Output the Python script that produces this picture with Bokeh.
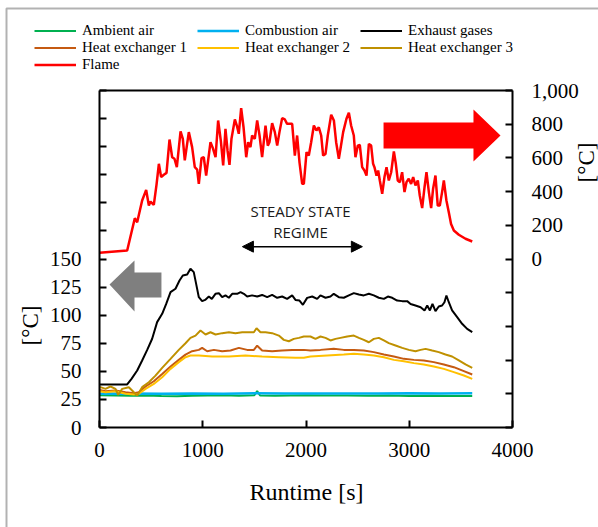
import math
from bokeh.plotting import figure
from bokeh.models import (Range1d, LinearAxis, FixedTicker, Legend, LegendItem, Label,
                          Arrow, NormalHead, CustomJSTickFormatter, BoxAnnotation)
from bokeh.embed import file_html
from bokeh.resources import INLINE

# ---------------- data (runtime [s], temperature [°C]) ----------------
flame = [(0, 37), (268, 50), (342, 242), (365, 218), (413, 347), (452, 410), (478, 317), (494, 341),
         (526, 321), (552, 440), (575, 565), (597, 486), (623, 500), (649, 511), (678, 709), (704, 604),
         (726, 595), (749, 545), (785, 757), (807, 713), (826, 585), (865, 753), (897, 664), (923, 545),
         (946, 531), (962, 446), (988, 598), (1010, 604), (1033, 495), (1075, 693), (1098, 658), (1124, 604),
         (1149, 822), (1175, 703), (1198, 555), (1220, 772), (1240, 644), (1259, 559), (1278, 713), (1311, 828),
         (1330, 792), (1349, 743), (1372, 895), (1395, 782), (1421, 604), (1440, 693), (1462, 664), (1478, 733),
         (1504, 713), (1527, 822), (1550, 733), (1575, 604), (1608, 792), (1630, 673), (1646, 693), (1672, 806),
         (1698, 753), (1721, 673), (1743, 753), (1769, 836), (1795, 828), (1817, 802), (1866, 802), (1892, 614),
         (1914, 733), (1937, 574), (1963, 446), (1979, 446), (2005, 634), (2027, 614), (2050, 693), (2076, 792),
         (2101, 763), (2124, 782), (2147, 733), (2166, 614), (2189, 624), (2211, 733), (2244, 856), (2270, 822),
         (2292, 693), (2318, 595), (2334, 654), (2360, 753), (2392, 832), (2415, 868), (2437, 792), (2463, 733),
         (2479, 604), (2502, 673), (2521, 677), (2544, 545), (2566, 525), (2586, 495), (2609, 683), (2631, 673),
         (2650, 565), (2663, 545), (2683, 495), (2699, 525), (2715, 466), (2738, 387), (2760, 486), (2780, 545),
         (2802, 466), (2825, 515), (2851, 638), (2870, 565), (2889, 466), (2909, 456), (2931, 515), (2954, 397),
         (2973, 456), (2995, 476), (3018, 446), (3038, 486), (3060, 436), (3083, 466), (3102, 377), (3125, 302),
         (3148, 426), (3167, 515), (3190, 397), (3212, 302), (3231, 417), (3254, 495), (3276, 317), (3296, 317),
         (3318, 397), (3335, 466), (3360, 347), (3383, 278), (3405, 208), (3432, 169), (3480, 144), (3545, 120),
         (3610, 104)]

exhaust = [(0, 38.3), (268, 38.3), (310, 43.3), (365, 50.7), (413, 59.6), (462, 69.1), (510, 79), (558, 93.8),
           (607, 101.2), (646, 110), (688, 120.5), (736, 123.5), (775, 130.9), (807, 135.3), (849, 136.2),
           (881, 141.3), (913, 138.3), (936, 127.9), (962, 116), (994, 112.5), (1023, 113.6), (1059, 116.6),
           (1088, 114.5), (1123, 119), (1156, 119.6), (1188, 116), (1220, 117.6), (1253, 115.5), (1285, 119),
           (1333, 119), (1366, 120.5), (1398, 119), (1430, 116.6), (1478, 117.6), (1527, 116.6), (1575, 118),
           (1624, 116), (1672, 118), (1721, 115.5), (1769, 116.6), (1817, 114.5), (1866, 117.6), (1898, 113.6),
           (1937, 113), (1970, 109.2), (2011, 115.4), (2060, 116.6), (2108, 114.5), (2140, 117.6), (2189, 115.5),
           (2237, 116.6), (2269, 119), (2318, 116), (2366, 115.5), (2415, 117.6), (2463, 119.6), (2512, 118.4),
           (2560, 117.6), (2609, 119), (2657, 117.6), (2705, 115.5), (2754, 114.5), (2793, 116.6), (2835, 115.5),
           (2883, 113), (2932, 112.5), (2980, 112.5), (3013, 110), (3060, 108.6), (3110, 107.1), (3148, 104.2),
           (3174, 108.6), (3200, 104.2), (3225, 110), (3254, 103.6), (3286, 107.7), (3318, 108.6), (3341, 111.5),
           (3360, 117.5), (3383, 111.5), (3415, 104.2), (3464, 98.2), (3512, 92.3), (3561, 87.8), (3610, 84.9)]

hx3 = [(0, 35.3), (10, 35.9), (58, 34.4), (106, 36.5), (155, 34.4), (181, 29.1), (220, 34.4), (284, 35.9),
       (333, 31.4), (365, 28.5), (413, 35.9), (478, 40.3), (542, 46.2), (607, 53.1), (688, 61.1), (768, 69.1),
       (833, 75), (881, 79.8), (930, 81.8), (978, 86.3), (1027, 82.8), (1075, 84.8), (1124, 82.8), (1188, 84),
       (1253, 84.8), (1317, 84), (1382, 84.8), (1446, 84.8), (1495, 84.8), (1521, 88.4), (1559, 84.8),
       (1608, 84.8), (1672, 84), (1737, 81.8), (1785, 78), (1834, 76.8), (1882, 78.9), (1931, 79.8), (1979, 81),
       (2043, 81), (2092, 78.9), (2140, 81), (2189, 79.8), (2237, 77.5), (2286, 78.9), (2334, 79.8), (2399, 81),
       (2463, 81.8), (2512, 79.8), (2560, 78), (2609, 75.9), (2657, 78.9), (2705, 79.8), (2754, 77.5),
       (2802, 75.1), (2867, 73), (2932, 70.9), (2996, 69.1), (3060, 67.9), (3110, 69.1), (3158, 70),
       (3222, 68.5), (3286, 67.1), (3351, 65), (3415, 63.2), (3480, 59.7), (3545, 56.1), (3610, 53.1)]

hx1 = [(0, 33.5), (58, 32.3), (155, 32.9), (252, 31.4), (333, 30.5), (381, 31.4), (446, 36.5), (526, 41.2),
       (607, 47.7), (688, 54.3), (768, 60.2), (833, 64.9), (897, 67.9), (962, 69.1), (994, 70.9), (1043, 67.9),
       (1108, 69.1), (1188, 67.9), (1269, 68.5), (1350, 70.9), (1430, 69.1), (1495, 69.1), (1527, 72.8),
       (1575, 68.5), (1672, 67.9), (1769, 68.5), (1866, 69.1), (1979, 69.1), (2043, 68.5), (2140, 69.1),
       (2269, 70), (2366, 69.1), (2463, 69.1), (2560, 68.5), (2657, 67.1), (2754, 65), (2851, 63.2),
       (2948, 61.1), (3045, 60.2), (3141, 59.7), (3238, 58.2), (3335, 56.1), (3432, 53.7), (3529, 50.2),
       (3610, 47.2)]

hx2 = [(0, 32.3), (58, 31.4), (155, 32.3), (252, 30), (333, 29.4), (381, 30), (446, 34.4), (526, 38.8),
       (607, 44.7), (688, 52.2), (768, 58.2), (833, 62.6), (881, 64.1), (962, 64.1), (1091, 63.2), (1253, 63.2),
       (1414, 64.1), (1575, 63.2), (1737, 62.6), (1898, 62), (1979, 62), (2043, 63.2), (2205, 64.1),
       (2366, 65), (2463, 65.6), (2560, 65), (2657, 64.1), (2754, 62.6), (2851, 60.2), (2948, 59), (3045, 57.3),
       (3141, 56.1), (3238, 54.3), (3335, 52.2), (3432, 49.3), (3529, 46.3), (3610, 43.3)]

ambient = [(0, 28.8), (150, 28.5), (300, 28.2), (450, 28.4), (600, 28), (750, 27.8), (900, 28.2), (1050, 28.4),
           (1200, 28.6), (1350, 28.2), (1500, 28.8), (1527, 32.5), (1555, 28.5), (1700, 28.3), (1850, 28.5),
           (2000, 28.7), (2200, 28.4), (2400, 28.5), (2600, 28.3), (2800, 28.4), (3000, 28.1), (3200, 28.2),
           (3400, 28.0), (3610, 28.1)]

combustion = [(0, 30.0), (300, 30.2), (600, 30.0), (900, 30.3), (1200, 30.1), (1500, 30.4), (1800, 30.2),
              (2100, 30.3), (2400, 30.2), (2700, 30.3), (3000, 30.4), (3300, 30.3), (3610, 30.4)]

series = [("Ambient air", ambient, "#00B050", 2),
          ("Combustion air", combustion, "#00B0F0", 2.5),
          ("Exhaust gases", exhaust, "#000000", 2),
          ("Heat exchanger 1", hx1, "#C55A11", 2),
          ("Heat exchanger 2", hx2, "#FFC000", 2),
          ("Heat exchanger 3", hx3, "#BF9000", 2),
          ("Flame", flame, "#FF0000", 2.5)]

x_bounds = (0, 4000)
left_bounds = (0, 300)
right_bounds = (-1000, 1000)
left_ticks = list(range(0, 301, 25))
right_ticks = list(range(-1000, 1001, 200))
x_ticks = [0, 1000, 2000, 3000, 4000]

SERIF = "Liberation Serif"
W, H = 598, 527
# plot box inside the canvas (pixels): left 99, right 512, top 90, bottom 427
BL, BR, BT, BB = 99, 512, 90, 427

def rng(lo, hi, p_lo, p_hi, size):
    per = (p_hi - p_lo) / (hi - lo)
    return Range1d(lo - p_lo / per, hi + (size - p_hi) / per)

# frame covers the whole canvas; the axes are pinned at the box edges
p = figure(width=W, height=H, output_backend="svg", toolbar_location=None,
           x_range=rng(x_bounds[0], x_bounds[1], BL, BR, W),
           y_range=rng(left_bounds[0], left_bounds[1], H - BB, H - BT, H),
           x_axis_location=None, y_axis_location=None, min_border=0)
p.extra_y_ranges = {"flame": rng(right_bounds[0], right_bounds[1], H - BB, H - BT, H)}
p.xgrid.visible = False
p.ygrid.visible = False
p.outline_line_color = None
p.background_fill_color = "white"
p.border_fill_color = "white"

def style_axis(ax, standoff):
    ax.axis_line_color = "black"
    ax.axis_line_width = 2
    ax.major_tick_line_color = "black"
    ax.major_tick_line_width = 2
    ax.major_tick_in = 7
    ax.major_tick_out = 0
    ax.minor_tick_in = 0
    ax.minor_tick_out = 0
    ax.major_label_text_font = SERIF
    ax.major_label_text_font_size = "21px"
    ax.major_label_text_color = "black"
    ax.major_label_standoff = standoff

left_axis = LinearAxis(fixed_location=x_bounds[0], bounds=left_bounds, ticker=FixedTicker(ticks=left_ticks),
                       formatter=CustomJSTickFormatter(code="return tick > 150 ? '' : tick.toString();"))
style_axis(left_axis, 18)
p.add_layout(left_axis, "left")

right_axis = LinearAxis(y_range_name="flame", fixed_location=x_bounds[1], bounds=right_bounds,
                        ticker=FixedTicker(ticks=right_ticks),
                        formatter=CustomJSTickFormatter(
                            code="if (tick < 0) return ''; return tick >= 1000 ? (Math.floor(tick/1000) + ',' + String(tick % 1000).padStart(3,'0')) : tick.toString();"))
style_axis(right_axis, 19)
p.add_layout(right_axis, "right")

bottom_axis = LinearAxis(fixed_location=left_bounds[0], bounds=x_bounds, ticker=FixedTicker(ticks=x_ticks))
style_axis(bottom_axis, 15)
p.add_layout(bottom_axis, "below")

# top edge of the plot box
p.segment(x0=[x_bounds[0]], y0=[left_bounds[1]], x1=[x_bounds[1]], y1=[left_bounds[1]],
          line_color="black", line_width=2)

items = []
for name, data, color, lw in series:
    xs = [d[0] for d in data]
    ys = [d[1] for d in data]
    if name == "Flame":
        r = p.line(xs, ys, line_color=color, line_width=lw, y_range_name="flame")
    else:
        r = p.line(xs, ys, line_color=color, line_width=lw)
    items.append(LegendItem(label=name, renderers=[r]))

legend = Legend(items=items, location=(34, H - 73), orientation="horizontal", ncols=3,
                glyph_width=42, glyph_height=17, label_height=17, label_width=115,
                label_standoff=6, spacing=0, padding=0, margin=0,
                border_line_alpha=0, background_fill_alpha=0,
                label_text_font=SERIF, label_text_font_size="15px", label_text_color="black")
p.add_layout(legend)

# block arrows (decorations, left-axis coordinates)
p.patch([97, 339, 339, 600, 600, 339, 339], [127.3, 148.7, 138, 138, 115.7, 115.7, 103.3],
        fill_color="#7F7F7F", line_color=None)
p.patch([2751, 3622, 3622, 3884, 3622, 3622, 2751], [271.5, 271.5, 283.1, 260, 236.8, 248.4, 248.4],
        fill_color="#FF0000", line_color=None)

# steady state annotation
for txt, yy in (("STEADY STATE", H - 210), ("REGIME", H - 231)):
    p.add_layout(Label(x=300, y=yy, x_units="screen", y_units="screen", text=txt,
                       text_align="center", text_baseline="middle",
                       text_font="Open Sans", text_font_size="15px", text_color="#1a1a1a"))
p.add_layout(Arrow(start=NormalHead(size=11, fill_color="black", line_color="black"),
                   end=NormalHead(size=11, fill_color="black", line_color="black"),
                   x_start=1384, x_end=2546, y_start=161, y_end=161,
                   line_color="black", line_width=1.5))

# axis titles
p.add_layout(Label(x=30, y=H - 325, x_units="screen", y_units="screen", text="[°C]", angle=math.pi / 2,
                   text_align="center", text_baseline="middle", text_font=SERIF,
                   text_font_size="23px", text_color="black"))
p.add_layout(Label(x=586, y=H - 162, x_units="screen", y_units="screen", text="[°C]", angle=math.pi / 2,
                   text_align="center", text_baseline="middle", text_font=SERIF,
                   text_font_size="23px", text_color="black"))
p.add_layout(Label(x=306, y=H - 491, x_units="screen", y_units="screen", text="Runtime [s]",
                   text_align="center", text_baseline="alphabetic", text_font=SERIF,
                   text_font_size="24px", text_color="black"))

# outer chart border (left and top rules)
p.add_layout(BoxAnnotation(left=6, right=900, top=8, bottom=900,
                           left_units="canvas", right_units="canvas", top_units="canvas", bottom_units="canvas",
                           fill_alpha=0, line_color="black", line_width=2))

open("out.html", "w").write(file_html(p, INLINE))
